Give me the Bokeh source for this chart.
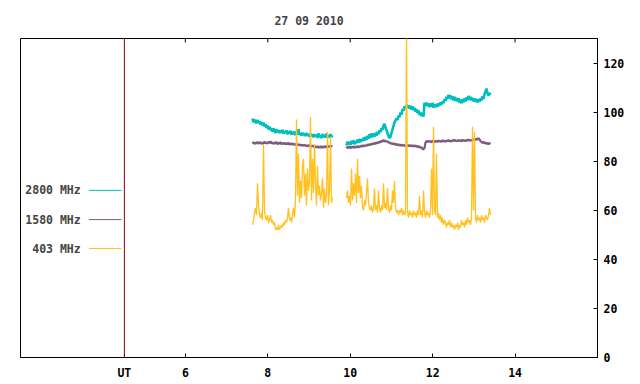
import numpy as np
from bokeh.plotting import figure
from bokeh.models import FixedTicker, Span, Range1d
from bokeh.models import Label
from bokeh.embed import file_html
from bokeh.resources import INLINE

TITLE = "27 09 2010"
FONT = "DejaVu Sans Mono"
FS = "11.5px"

# --- sampling times (UT hours) of the two recorded intervals ---
seg1_start, seg1_end, seg1_n = 7.629, 9.570, 81
seg2_start, seg2_end, seg2_n = 9.910, 13.404, 145
t1 = np.linspace(seg1_start, seg1_end, seg1_n)
t2 = np.linspace(seg2_start, seg2_end, seg2_n)

# --- 2800 MHz ---
f2800_seg1 = [97.4, 95.8, 96.9, 96.2, 95.4, 96.8, 95.6, 96.3, 94.9, 95.9,
              94.6, 95.7, 94.2, 95.1, 93.6, 94.5, 93.0, 94.1, 92.6, 93.5,
              92.0, 93.4, 92.3, 91.5, 93.0, 91.8, 92.7, 91.4, 92.5, 91.6,
              92.8, 91.2, 92.3, 91.5, 92.6, 90.9, 92.1, 91.3, 92.4, 90.8,
              91.9, 91.0, 92.2, 90.6, 91.7, 90.9, 93.0, 90.7, 91.5, 90.4,
              91.6, 90.6, 91.3, 90.2, 91.5, 90.5, 91.1, 89.9, 91.2, 90.3,
              90.9, 89.7, 91.0, 90.1, 90.8, 89.5, 91.4, 89.8, 90.6, 89.4,
              91.1, 89.8, 90.7, 89.6, 91.3, 89.9, 90.5, 89.7, 91.0, 90.0,
              90.6]
f2800_seg2 = [86.4, 88.0, 86.8, 87.9, 86.6, 88.3, 87.1, 88.5, 86.9, 88.2,
              87.3, 88.8, 87.6, 89.1, 87.8, 88.9, 88.2, 89.6, 88.4, 89.9,
              88.7, 90.3, 89.2, 91.0, 89.6, 91.4, 89.8, 91.2, 90.0, 91.6,
              90.4, 92.0, 91.0, 92.6, 91.8, 93.4, 92.8, 94.6, 95.2, 93.6,
              92.6, 91.4, 90.2, 89.4, 90.0, 91.6, 93.0, 94.4, 95.8, 96.6,
              97.4, 96.8, 98.6, 97.9, 99.8, 99.0, 101.2, 100.6, 102.4, 101.6,
              103.0, 101.8, 102.8, 101.4, 102.6, 101.0, 102.4, 100.8, 101.8, 100.2,
              101.2, 99.6, 100.8, 98.8, 99.9, 98.4, 99.6, 98.2, 103.8, 102.6,
              103.9, 102.4, 103.6, 102.0, 103.5, 102.2, 103.8, 101.8, 103.2, 102.0,
              103.4, 102.2, 103.6, 102.6, 104.0, 103.0, 104.4, 103.6, 105.2, 104.6,
              106.2, 105.4, 107.0, 105.6, 106.8, 105.2, 106.4, 104.8, 106.2, 104.6,
              105.8, 104.4, 105.6, 103.8, 105.0, 103.6, 105.2, 104.0, 105.6, 104.4,
              106.0, 104.8, 106.6, 105.0, 106.2, 104.8, 105.8, 104.4, 105.6, 104.2,
              105.4, 104.0, 105.2, 104.2, 105.6, 104.8, 106.4, 105.4, 107.2, 108.4,
              109.6, 107.8, 106.6, 107.8, 107.0]

# --- 1580 MHz ---
f1580_seg1 = [87.2, 87.8, 87.0, 87.6, 87.3, 87.9, 87.1, 87.5, 87.8, 87.0,
              87.6, 87.2, 88.0, 87.3, 87.7, 87.1, 87.9, 87.4, 88.1, 87.2,
              87.7, 87.0, 87.6, 87.3, 87.9, 86.9, 87.5, 87.2, 87.8, 86.9,
              87.4, 87.0, 87.6, 86.8, 87.3, 87.0, 87.5, 86.7, 87.2, 86.9,
              87.3, 86.6, 87.1, 86.8, 86.4, 87.0, 86.5, 86.9, 86.3, 86.8,
              86.2, 86.7, 86.3, 86.6, 86.0, 86.5, 86.1, 86.6, 85.8, 86.3,
              86.0, 86.4, 85.6, 86.2, 85.5, 86.1, 85.4, 86.0, 85.5, 86.2,
              85.4, 86.0, 85.6, 86.3, 85.5, 86.1, 85.7, 86.4, 85.8, 86.2,
              86.0]
f1580_seg2 = [85.2, 85.9, 85.4, 86.0, 85.3, 85.8, 85.5, 86.1, 85.4, 86.0,
              85.6, 86.2, 85.5, 86.1, 85.8, 86.4, 85.9, 86.5, 86.0, 86.6,
              86.2, 86.9, 86.4, 87.0, 86.5, 87.2, 86.8, 87.4, 86.9, 87.6,
              87.1, 87.8, 87.3, 88.1, 87.6, 88.4, 87.9, 88.7, 88.0, 88.5,
              87.8, 88.2, 87.5, 87.8, 87.1, 87.5, 86.9, 87.3, 86.7, 87.2,
              86.5, 87.0, 86.4, 86.9, 86.2, 86.8, 86.3, 86.7, 86.1, 86.6,
              86.2, 86.7, 86.0, 86.6, 86.1, 86.5, 85.9, 86.6, 86.0, 86.4,
              85.8, 86.3, 85.6, 86.1, 85.4, 85.8, 85.0, 84.8, 85.4, 87.6,
              88.3, 87.7, 88.4, 87.9, 88.2, 87.6, 88.5, 87.9, 88.3, 87.7,
              88.4, 87.8, 88.5, 88.0, 88.3, 87.8, 88.6, 88.0, 88.4, 87.9,
              88.5, 88.0, 88.7, 88.1, 88.4, 87.9, 88.6, 88.2, 88.8, 88.1,
              88.5, 88.0, 88.7, 88.2, 88.6, 88.0, 88.8, 88.3, 88.6, 88.1,
              88.7, 88.3, 88.9, 88.4, 88.7, 88.2, 88.9, 88.5, 89.1, 88.6,
              89.2, 88.8, 89.4, 88.9, 88.2, 87.8, 87.4, 87.9, 87.2, 87.7,
              87.0, 87.5, 86.9, 87.4, 87.1]

# --- 403 MHz ---
f403_seg1 = [54, 56, 59, 61, 58, 71, 62, 58, 57, 59,
             56, 87, 60, 57, 56, 58, 55, 56, 58, 55,
             56, 54, 55, 52, 53, 52, 54, 52, 53, 54,
             53, 55, 54, 56, 55, 57, 61, 56, 57, 55,
             58, 61, 57, 64, 97, 66, 83, 63, 72, 65,
             78, 81, 66, 75, 62, 77, 68, 72, 98, 64,
             81, 67, 87, 71, 62, 78, 66, 70, 64, 67,
             73, 61, 69, 63, 66, 92, 62, 68, 90, 63,
             65]
f403_seg2 = [65, 68, 63, 66, 62, 77, 64, 71, 66, 75,
             63, 81, 67, 74, 65, 70, 61, 60, 64, 62,
             67, 73, 63, 61, 60, 62, 59, 61, 69, 60,
             62, 59, 68, 61, 59, 62, 60, 71, 61, 63,
             60, 69, 61, 59, 62, 60, 68, 63, 72, 61,
             59, 60, 58, 60, 59, 61, 58, 60, 58, 59,
             135, 59, 57, 60, 58, 59, 57, 60, 58, 59,
             57, 60, 58, 66, 58, 60, 57, 68, 59, 57,
             60, 58, 59, 57, 60, 77, 58, 94, 60, 58,
             83, 57, 59, 56, 58, 55, 57, 54, 56, 55,
             53, 55, 54, 56, 53, 55, 53, 54, 52, 54,
             53, 55, 52, 54, 53, 56, 54, 55, 53, 56,
             54, 57, 55, 56, 54, 57, 94, 60, 92, 57,
             55, 58, 56, 57, 55, 58, 56, 57, 55, 58,
             57, 56, 58, 61, 58]

series_names = ["2800 MHz", "1580 MHz", "403 MHz"]
series_colors = ["#00bfbf", "#7d5c7d", "#ffc020"]
series_widths = [2.6, 2.2, 1.3]
series_seg1 = [f2800_seg1, f1580_seg1, f403_seg1]
series_seg2 = [f2800_seg2, f1580_seg2, f403_seg2]

x_ticks = [6, 8, 10, 12, 14]
y_ticks = [0, 20, 40, 60, 80, 100, 120]
X_MIN, X_MAX = 2, 16
Y_MIN, Y_MAX = 0, 130
UT_X = 4.52
UT_LABEL = "UT"
TOP_TICK_LEN = 1.6  # data units (~4 px)

# legend placement (data units)
legend_y = [68.1, 56.2, 44.4]
legend_text_x = 3.46
legend_line_x0, legend_line_x1 = 3.66, 4.45

p = figure(width=640, height=384, x_range=Range1d(X_MIN, X_MAX),
           y_range=Range1d(Y_MIN, Y_MAX), output_backend="svg",
           toolbar_location=None, y_axis_location="right", title=TITLE)
p.min_border_left = 20
p.min_border_right = 43
p.min_border_top = 38
p.min_border_bottom = 27
p.background_fill_color = "white"
p.border_fill_color = "white"
p.outline_line_color = "black"
p.outline_line_width = 1
p.xgrid.visible = False
p.ygrid.visible = False

p.title.align = "center"
p.title.text_font = FONT
p.title.text_font_style = "bold"
p.title.text_font_size = FS
p.title.standoff = 22

for ax in p.xaxis:
    ax.ticker = FixedTicker(ticks=[UT_X] + x_ticks)
    ax.major_label_overrides = {UT_X: UT_LABEL}
    ax.major_tick_in = 4
    ax.major_tick_out = 0
    ax.minor_tick_in = 0
    ax.minor_tick_out = 0
    ax.major_label_standoff = 8
    ax.major_label_text_font = FONT
    ax.major_label_text_font_style = "bold"
    ax.major_label_text_font_size = FS
    ax.major_label_text_color = "black"
    ax.axis_line_color = "black"

for ax in p.yaxis:
    ax.ticker = FixedTicker(ticks=y_ticks)
    ax.major_tick_in = 4
    ax.major_tick_out = 0
    ax.minor_tick_in = 0
    ax.minor_tick_out = 0
    ax.major_label_standoff = 6
    ax.major_label_text_font = FONT
    ax.major_label_text_font_style = "bold"
    ax.major_label_text_font_size = FS
    ax.major_label_text_color = "black"
    ax.axis_line_color = "black"

# mirrored ticks on the top border
p.segment(x0=x_ticks, y0=[Y_MAX] * len(x_ticks), x1=x_ticks,
          y1=[Y_MAX - TOP_TICK_LEN] * len(x_ticks), line_color="black",
          line_width=1)

# UT marker line
p.add_layout(Span(location=UT_X, dimension="height", line_color="#8b0000",
                  line_width=1))

for name, color, lw, s1, s2, ly in zip(series_names, series_colors,
                                       series_widths, series_seg1,
                                       series_seg2, legend_y):
    p.line(t1, s1, line_color=color, line_width=lw)
    p.line(t2, s2, line_color=color, line_width=lw)
    p.segment(x0=[legend_line_x0], y0=[ly], x1=[legend_line_x1], y1=[ly],
              line_color=color, line_width=1)
    p.add_layout(Label(x=legend_text_x, y=ly, text=name, text_font=FONT,
                       text_font_style="bold", text_font_size=FS,
                       text_align="right", text_baseline="middle"))

open("out.html", "w").write(file_html(p, INLINE))
